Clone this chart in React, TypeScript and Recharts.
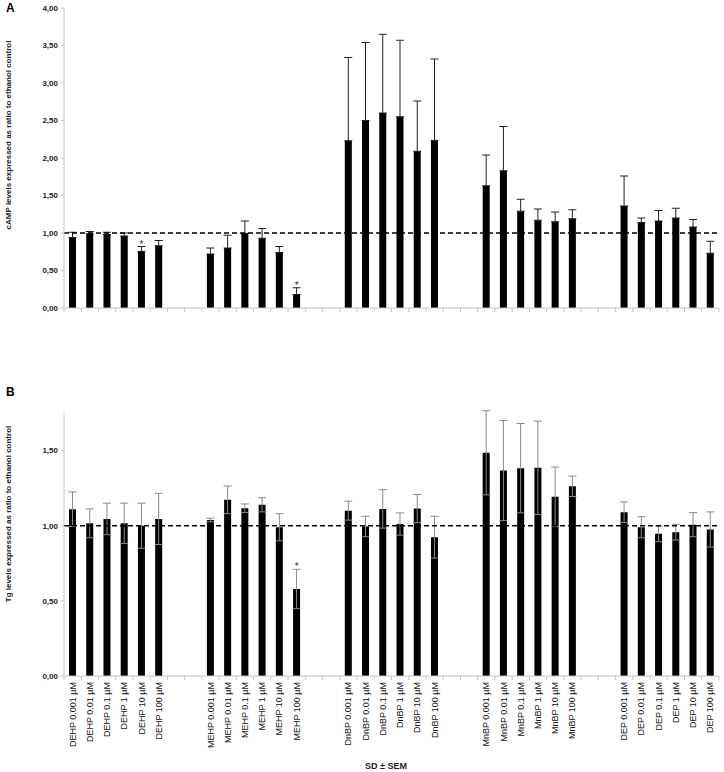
import React from 'react';
import { BarChart, Bar, XAxis, YAxis, ReferenceLine, ErrorBar, LabelList } from 'recharts';

const groups = ['DEHP', 'MEHP', 'DnBP', 'MnBP', 'DEP'];
const doses = ['0.001 µM', '0.01 µM', '0.1 µM', '1 µM', '10 µM', '100 µM'];

// panel A: cAMP ratio (mean, upper error)
const campMean = [
  0.94, 0.99, 0.98, 0.96, 0.755, 0.83,
  0.72, 0.8, 0.995, 0.93, 0.74, 0.18,
  2.23, 2.5, 2.6, 2.55, 2.09, 2.235,
  1.63, 1.83, 1.29, 1.17, 1.15, 1.19,
  1.36, 1.14, 1.16, 1.2, 1.08, 0.73,
];
const campErr = [
  0.07, 0.03, 0.03, 0.04, 0.065, 0.07,
  0.08, 0.17, 0.165, 0.13, 0.08, 0.09,
  1.11, 1.04, 1.05, 1.02, 0.67, 1.085,
  0.41, 0.59, 0.16, 0.15, 0.13, 0.12,
  0.4, 0.06, 0.14, 0.13, 0.1, 0.16,
];
const campSig = [4, 11];

// panel B: Tg ratio (mean, symmetric error)
const tgMean = [
  1.11, 1.016, 1.045, 1.016, 1.0, 1.045,
  1.038, 1.172, 1.116, 1.139, 0.99, 0.579,
  1.1, 0.995, 1.112, 1.011, 1.114, 0.924,
  1.485, 1.367, 1.383, 1.385, 1.192, 1.262,
  1.09, 0.99, 0.946, 0.957, 1.007, 0.975,
];
const tgErr = [
  0.115, 0.096, 0.105, 0.134, 0.15, 0.17,
  0.012, 0.092, 0.029, 0.047, 0.09, 0.131,
  0.063, 0.068, 0.128, 0.074, 0.094, 0.139,
  0.28, 0.333, 0.297, 0.311, 0.198, 0.068,
  0.069, 0.07, 0.052, 0.052, 0.08, 0.117,
];
const tgSig = [11];

const campTicks = [0, 0.5, 1, 1.5, 2, 2.5, 3, 3.5, 4];
const tgTicks = [0, 0.5, 1, 1.5];

function buildRows(mean: number[], err: number[], sig: number[], symmetric: boolean) {
  const rows: any[] = [];
  groups.forEach((g, gi) => {
    doses.forEach((d, di) => {
      const i = gi * 6 + di;
      rows.push({
        name: `${g} ${d}`,
        value: mean[i],
        err: symmetric ? err[i] : [0, err[i]],
        errTop: err[i],
        // row position kept so the label can find its own row
        star: sig.includes(i) ? String(rows.length) : '',
      });
    });
    if (gi < groups.length - 1) {
      rows.push({ name: `gap${gi}a`, value: null, err: 0, errTop: 0, star: '' });
      rows.push({ name: `gap${gi}b`, value: null, err: 0, errTop: 0, star: '' });
    }
  });
  return rows;
}

const rowsA = buildRows(campMean, campErr, campSig, false);
const rowsB = buildRows(tgMean, tgErr, tgSig, true);

const W = 724;
const Y_W = 64;
const M_RIGHT = 5;
const STEP = (W - Y_W - M_RIGHT) / rowsA.length;
const FONT = '"Liberation Sans", Arial, sans-serif';
const fmt = (v: number) => v.toFixed(2).replace('.', ',');

function CatTick({ x, y, payload, index, showLabel }: any) {
  const last = index === rowsA.length - 1;
  const isGap = String(payload.value).startsWith('gap');
  return (
    <g>
      <line x1={x - STEP / 2} x2={x - STEP / 2} y1={y} y2={y + 4} stroke="#c4c4c4" />
      {last && <line x1={x + STEP / 2} x2={x + STEP / 2} y1={y} y2={y + 4} stroke="#c4c4c4" />}
      {showLabel && !isGap && (
        <text
          x={x}
          y={y + 6}
          transform={`rotate(-90, ${x}, ${y + 6})`}
          textAnchor="end"
          dominantBaseline="central"
          fontSize={9}
          fontFamily={FONT}
          fill="#111"
        >
          {payload.value}
        </text>
      )}
    </g>
  );
}

// star above the error bar; scale passed in from the panel geometry
function Star(props: any) {
  const { value, rows, base, ppu } = props;
  if (value === '' || value == null) return null;
  const ri = Number(value);
  const r = rows[ri];
  const cx = Y_W + STEP * (ri + 0.5);
  const top = base - (r.value + r.errTop) * ppu;
  return (
    <text x={cx} y={top + 1} textAnchor="middle" fontSize={10} fontFamily={FONT} fill="#333">
      *
    </text>
  );
}

function Panel({ rows, ticks, max, errColor, showLabels, height, top, bottomAxis }: any) {
  const base = height - bottomAxis;
  const ppu = (base - top) / max;
  return (
    <BarChart
      width={W}
      height={height}
      data={rows}
      margin={{ top, right: M_RIGHT, left: 0, bottom: 0 }}
      barCategoryGap={0}
    >
      <XAxis
        dataKey="name"
        interval={0}
        height={bottomAxis}
        tickLine={false}
        tickSize={0}
        tickMargin={0}
        axisLine={{ stroke: '#c4c4c4' }}
        tick={<CatTick showLabel={showLabels} />}
      />
      <YAxis
        width={Y_W}
        domain={[0, max]}
        ticks={ticks}
        allowDataOverflow
        tickFormatter={fmt}
        tickSize={3}
        tickMargin={3}
        axisLine={{ stroke: '#c4c4c4' }}
        tickLine={{ stroke: '#c4c4c4' }}
        tick={{ fontSize: 8, fontWeight: 'bold', fill: '#222', fontFamily: FONT }}
      />
      <Bar dataKey="value" fill="#000" barSize={7} isAnimationActive={false}>
        <ErrorBar dataKey="err" width={4} stroke={errColor} strokeWidth={1} direction="y" />
        <LabelList dataKey="star" content={<Star rows={rows} base={base} ppu={ppu} />} />
      </Bar>
      <ReferenceLine y={1} stroke="#000" strokeDasharray="5 3" strokeWidth={1.4} />
    </BarChart>
  );
}

const yTitle = (text: string, cx: number, cy: number) => (
  <div
    style={{
      position: 'absolute',
      left: cx - 150,
      top: cy - 5,
      width: 300,
      height: 10,
      lineHeight: '10px',
      textAlign: 'center',
      transform: 'rotate(-90deg)',
      fontSize: 8,
      fontWeight: 'bold',
      fontFamily: FONT,
      color: '#222',
      whiteSpace: 'nowrap',
    }}
  >
    {text}
  </div>
);

export default function App() {
  return (
    <div style={{ position: 'absolute', left: 0, top: 0, width: 724, height: 772, background: '#fff', fontFamily: FONT }}>
      <div style={{ position: 'absolute', left: 0, top: 0 }}>
        <Panel rows={rowsA} ticks={campTicks} max={4} errColor="#222" showLabels={false} height={320} top={8} bottomAxis={12} />
      </div>
      <div style={{ position: 'absolute', left: 0, top: 400 }}>
        <Panel rows={rowsB} ticks={tgTicks} max={1.75} errColor="#8a8a8a" showLabels={true} height={356} top={13} bottomAxis={80} />
      </div>
      <div style={{ position: 'absolute', left: 6, top: 1, fontSize: 12, fontWeight: 'bold' }}>A</div>
      <div style={{ position: 'absolute', left: 6, top: 385, fontSize: 12, fontWeight: 'bold' }}>B</div>
      {yTitle('cAMP levels expressed as ratio to ethanol control', 9, 135)}
      {yTitle('Tg levels expressed as ratio to ethanol control', 9, 514)}
      <div style={{ position: 'absolute', left: 336, top: 761, width: 100, textAlign: 'center', fontSize: 9, fontWeight: 'bold', color: '#222' }}>
        SD ± SEM
      </div>
    </div>
  );
}
